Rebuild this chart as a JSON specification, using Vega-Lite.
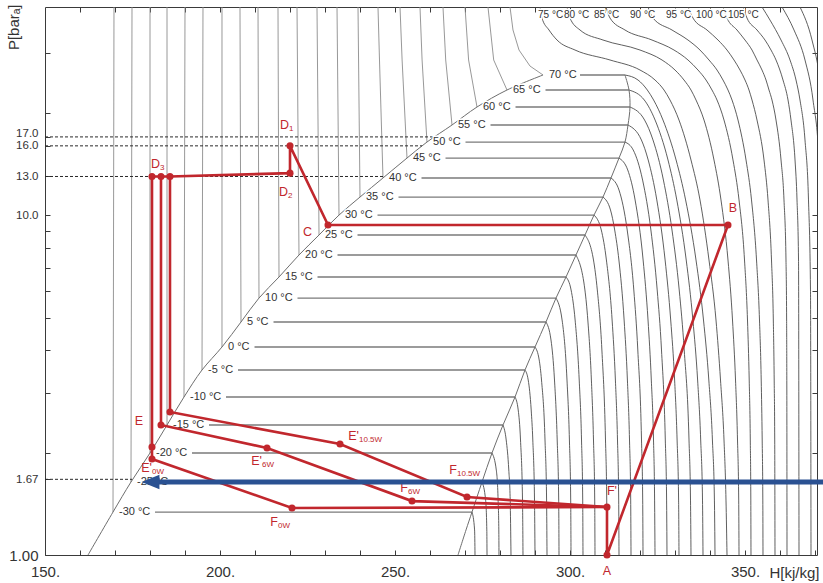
{
  "$schema": "https://vega.github.io/schema/vega-lite/v6.json",
  "width": 772,
  "height": 548,
  "autosize": {"type": "none"},
  "padding": {"left": 45, "top": 7, "right": 6, "bottom": 28},
  "background": "white",
  "config": {
    "view": {"stroke": null},
    "font": "Liberation Sans",
    "axis": {"grid": false, "domainColor": "#3a3a3a", "tickColor": "#3a3a3a", "labelColor": "#333", "titleColor": "#333", "titleFontWeight": "normal"}
  },
  "datasets": {
    "liqv": [
      {"g": -30, "H": 169.43, "P": 1.338}, {"g": -30, "H": 169.71, "P": 41},
      {"g": -25, "H": 174.57, "P": 1.64}, {"g": -25, "H": 174.86, "P": 41},
      {"g": -20, "H": 180.0, "P": 1.996}, {"g": -20, "H": 180.0, "P": 41},
      {"g": -15, "H": 184.86, "P": 2.413}, {"g": -15, "H": 184.86, "P": 41},
      {"g": -10, "H": 189.71, "P": 2.917}, {"g": -10, "H": 190.0, "P": 41},
      {"g": -5, "H": 194.86, "P": 3.503}, {"g": -5, "H": 195.14, "P": 41},
      {"g": 0, "H": 200.57, "P": 4.094}, {"g": 0, "H": 200.57, "P": 41},
      {"g": 5, "H": 206.0, "P": 4.85}, {"g": 5, "H": 205.71, "P": 41},
      {"g": 10, "H": 211.14, "P": 5.704}, {"g": 10, "H": 210.86, "P": 41},
      {"g": 15, "H": 216.86, "P": 6.579}, {"g": 15, "H": 216.57, "P": 41},
      {"g": 20, "H": 222.57, "P": 7.636}, {"g": 20, "H": 222.0, "P": 41},
      {"g": 25, "H": 228.29, "P": 8.745}, {"g": 25, "H": 227.71, "P": 41},
      {"g": 30, "H": 234.0, "P": 10.01}, {"g": 30, "H": 233.43, "P": 41},
      {"g": 35, "H": 240.0, "P": 11.31}, {"g": 35, "H": 239.43, "P": 41},
      {"g": 40, "H": 246.57, "P": 12.87}, {"g": 40, "H": 245.57, "P": 28.63}, {"g": 40, "H": 245.14, "P": 41},
      {"g": 45, "H": 253.43, "P": 14.73}, {"g": 45, "H": 252.03, "P": 28.63}, {"g": 45, "H": 251.43, "P": 41},
      {"g": 50, "H": 259.14, "P": 16.42}, {"g": 50, "H": 257.74, "P": 28.63}, {"g": 50, "H": 257.14, "P": 41},
      {"g": 55, "H": 266.29, "P": 18.43}, {"g": 55, "H": 264.49, "P": 28.63}, {"g": 55, "H": 263.71, "P": 41},
      {"g": 60, "H": 273.43, "P": 20.82}, {"g": 60, "H": 271.03, "P": 28.63}, {"g": 60, "H": 270.0, "P": 41},
      {"g": 65, "H": 282.0, "P": 23.36}, {"g": 65, "H": 278.2, "P": 28.63}, {"g": 65, "H": 276.57, "P": 41},
      {"g": 70, "H": 282.86, "P": 41}, {"g": 70, "H": 283.71, "P": 35.08}, {"g": 70, "H": 285.43, "P": 30.63}, {"g": 70, "H": 288.57, "P": 27.48}, {"g": 70, "H": 292.29, "P": 25.86}
    ],
    "dome": [
      {"g": -30, "H": 181.43, "P": 1.338}, {"g": -30, "H": 272.0, "P": 1.338},
      {"g": -25, "H": 186.57, "P": 1.64}, {"g": -25, "H": 274.86, "P": 1.64},
      {"g": -20, "H": 192.0, "P": 1.996}, {"g": -20, "H": 277.71, "P": 1.996},
      {"g": -15, "H": 196.86, "P": 2.413}, {"g": -15, "H": 280.86, "P": 2.413},
      {"g": -10, "H": 201.71, "P": 2.917}, {"g": -10, "H": 284.29, "P": 2.917},
      {"g": -5, "H": 205.14, "P": 3.503}, {"g": -5, "H": 287.14, "P": 3.503},
      {"g": 0, "H": 209.86, "P": 4.094}, {"g": 0, "H": 290.0, "P": 4.094},
      {"g": 5, "H": 215.29, "P": 4.85}, {"g": 5, "H": 293.14, "P": 4.85},
      {"g": 10, "H": 222.14, "P": 5.704}, {"g": 10, "H": 296.0, "P": 5.704},
      {"g": 15, "H": 227.86, "P": 6.579}, {"g": 15, "H": 298.86, "P": 6.579},
      {"g": 20, "H": 233.57, "P": 7.636}, {"g": 20, "H": 301.71, "P": 7.636},
      {"g": 25, "H": 239.29, "P": 8.745}, {"g": 25, "H": 304.29, "P": 8.745},
      {"g": 30, "H": 245.0, "P": 10.01}, {"g": 30, "H": 306.86, "P": 10.01},
      {"g": 35, "H": 251.0, "P": 11.31}, {"g": 35, "H": 309.43, "P": 11.31},
      {"g": 40, "H": 257.57, "P": 12.87}, {"g": 40, "H": 311.71, "P": 12.87},
      {"g": 45, "H": 264.43, "P": 14.73}, {"g": 45, "H": 314.0, "P": 14.73},
      {"g": 50, "H": 270.14, "P": 16.42}, {"g": 50, "H": 315.71, "P": 16.42},
      {"g": 55, "H": 277.29, "P": 18.43}, {"g": 55, "H": 316.57, "P": 18.43},
      {"g": 60, "H": 284.43, "P": 20.82}, {"g": 60, "H": 317.14, "P": 20.82},
      {"g": 65, "H": 293.0, "P": 23.36}, {"g": 65, "H": 316.86, "P": 23.36},
      {"g": 70, "H": 302.86, "P": 25.86}, {"g": 70, "H": 315.71, "P": 25.86}
    ],
    "vc": [
      {"g": -30, "H": 272.0, "P": 1.338}, {"g": -30, "H": 272.74, "P": 1.185}, {"g": -30, "H": 272.86, "P": 1},
      {"g": -25, "H": 274.86, "P": 1.64}, {"g": -25, "H": 275.89, "P": 1.451}, {"g": -25, "H": 276.23, "P": 1.185}, {"g": -25, "H": 276.29, "P": 1},
      {"g": -20, "H": 277.71, "P": 1.996}, {"g": -20, "H": 278.94, "P": 1.779}, {"g": -20, "H": 279.46, "P": 1.451}, {"g": -20, "H": 279.66, "P": 1.185}, {"g": -20, "H": 279.71, "P": 1},
      {"g": -15, "H": 280.86, "P": 2.413}, {"g": -15, "H": 281.77, "P": 2.18}, {"g": -15, "H": 282.51, "P": 1.779}, {"g": -15, "H": 282.91, "P": 1.451}, {"g": -15, "H": 283.14, "P": 1},
      {"g": -10, "H": 284.29, "P": 2.917}, {"g": -10, "H": 285.2, "P": 2.672}, {"g": -10, "H": 285.86, "P": 2.18}, {"g": -10, "H": 286.43, "P": 1.451}, {"g": -10, "H": 286.57, "P": 1},
      {"g": -5, "H": 287.14, "P": 3.503}, {"g": -5, "H": 288.06, "P": 3.273}, {"g": -5, "H": 288.91, "P": 2.672}, {"g": -5, "H": 289.37, "P": 2.18}, {"g": -5, "H": 289.86, "P": 1.451}, {"g": -5, "H": 290.0, "P": 1},
      {"g": 0, "H": 290.0, "P": 4.094}, {"g": 0, "H": 291.2, "P": 3.749}, {"g": 0, "H": 291.86, "P": 3.273}, {"g": 0, "H": 292.86, "P": 2.18}, {"g": 0, "H": 293.31, "P": 1.451}, {"g": 0, "H": 293.43, "P": 1},
      {"g": 5, "H": 293.14, "P": 4.85}, {"g": 5, "H": 294.57, "P": 4.293}, {"g": 5, "H": 295.57, "P": 3.273}, {"g": 5, "H": 296.34, "P": 2.18}, {"g": 5, "H": 296.77, "P": 1.451}, {"g": 5, "H": 296.86, "P": 1},
      {"g": 10, "H": 296.0, "P": 5.704}, {"g": 10, "H": 297.74, "P": 4.916}, {"g": 10, "H": 299.14, "P": 3.273}, {"g": 10, "H": 299.83, "P": 2.18}, {"g": 10, "H": 300.2, "P": 1.451}, {"g": 10, "H": 300.29, "P": 1},
      {"g": 15, "H": 298.86, "P": 6.579}, {"g": 15, "H": 300.31, "P": 6.026}, {"g": 15, "H": 301.46, "P": 4.916}, {"g": 15, "H": 302.63, "P": 3.273}, {"g": 15, "H": 303.29, "P": 2.18}, {"g": 15, "H": 303.63, "P": 1.451}, {"g": 15, "H": 303.71, "P": 1},
      {"g": 20, "H": 301.71, "P": 7.636}, {"g": 20, "H": 304.26, "P": 6.026}, {"g": 20, "H": 305.09, "P": 4.916}, {"g": 20, "H": 306.11, "P": 3.273}, {"g": 20, "H": 306.71, "P": 2.18}, {"g": 20, "H": 307.06, "P": 1.451}, {"g": 20, "H": 307.14, "P": 1},
      {"g": 25, "H": 304.29, "P": 8.745}, {"g": 25, "H": 306.71, "P": 7.383}, {"g": 25, "H": 307.8, "P": 6.026}, {"g": 25, "H": 309.11, "P": 4.012}, {"g": 25, "H": 310.14, "P": 2.18}, {"g": 25, "H": 310.49, "P": 1.451}, {"g": 25, "H": 310.57, "P": 1},
      {"g": 30, "H": 306.86, "P": 10.01}, {"g": 30, "H": 308.94, "P": 9.046}, {"g": 30, "H": 310.4, "P": 7.383}, {"g": 30, "H": 312.03, "P": 4.916}, {"g": 30, "H": 312.97, "P": 3.273}, {"g": 30, "H": 313.57, "P": 2.18}, {"g": 30, "H": 313.91, "P": 1.451}, {"g": 30, "H": 314.0, "P": 1},
      {"g": 35, "H": 309.43, "P": 11.31}, {"g": 35, "H": 311.57, "P": 10.36}, {"g": 35, "H": 312.77, "P": 9.046}, {"g": 35, "H": 313.97, "P": 7.383}, {"g": 35, "H": 315.46, "P": 4.916}, {"g": 35, "H": 316.4, "P": 3.273}, {"g": 35, "H": 317.0, "P": 2.18}, {"g": 35, "H": 317.34, "P": 1.451}, {"g": 35, "H": 317.43, "P": 1},
      {"g": 40, "H": 311.71, "P": 12.87}, {"g": 40, "H": 314.0, "P": 11.86}, {"g": 40, "H": 316.34, "P": 9.046}, {"g": 40, "H": 318.23, "P": 6.026}, {"g": 40, "H": 319.37, "P": 4.012}, {"g": 40, "H": 320.43, "P": 2.18}, {"g": 40, "H": 320.77, "P": 1.451}, {"g": 40, "H": 320.86, "P": 1},
      {"g": 45, "H": 314.0, "P": 14.73}, {"g": 45, "H": 316.49, "P": 13.59}, {"g": 45, "H": 318.6, "P": 11.09}, {"g": 45, "H": 320.89, "P": 7.383}, {"g": 45, "H": 322.29, "P": 4.916}, {"g": 45, "H": 323.23, "P": 3.273}, {"g": 45, "H": 323.86, "P": 2.18}, {"g": 45, "H": 324.17, "P": 1.451}, {"g": 45, "H": 324.29, "P": 1},
      {"g": 50, "H": 315.71, "P": 16.42}, {"g": 50, "H": 318.06, "P": 15.56}, {"g": 50, "H": 320.74, "P": 12.69}, {"g": 50, "H": 323.11, "P": 9.046}, {"g": 50, "H": 324.91, "P": 6.026}, {"g": 50, "H": 326.14, "P": 4.012}, {"g": 50, "H": 327.23, "P": 2.18}, {"g": 50, "H": 327.6, "P": 1.451}, {"g": 50, "H": 327.71, "P": 1},
      {"g": 55, "H": 316.57, "P": 18.43}, {"g": 55, "H": 320.4, "P": 16.65}, {"g": 55, "H": 322.34, "P": 14.54}, {"g": 55, "H": 324.8, "P": 11.09}, {"g": 55, "H": 327.17, "P": 7.383}, {"g": 55, "H": 328.77, "P": 4.916}, {"g": 55, "H": 329.89, "P": 3.273}, {"g": 55, "H": 330.6, "P": 2.18}, {"g": 55, "H": 331.03, "P": 1.451}, {"g": 55, "H": 331.14, "P": 1},
      {"g": 60, "H": 317.14, "P": 20.82}, {"g": 60, "H": 321.31, "P": 19.06}, {"g": 60, "H": 323.71, "P": 16.65}, {"g": 60, "H": 326.69, "P": 12.69}, {"g": 60, "H": 329.14, "P": 9.046}, {"g": 60, "H": 331.2, "P": 6.026}, {"g": 60, "H": 332.63, "P": 4.012}, {"g": 60, "H": 334.0, "P": 2.18}, {"g": 60, "H": 334.43, "P": 1.451}, {"g": 60, "H": 334.57, "P": 1},
      {"g": 65, "H": 316.86, "P": 23.36}, {"g": 65, "H": 321.23, "P": 21.83}, {"g": 65, "H": 324.31, "P": 19.06}, {"g": 65, "H": 328.0, "P": 14.54}, {"g": 65, "H": 330.51, "P": 11.09}, {"g": 65, "H": 333.2, "P": 7.383}, {"g": 65, "H": 335.11, "P": 4.916}, {"g": 65, "H": 336.46, "P": 3.273}, {"g": 65, "H": 337.34, "P": 2.18}, {"g": 65, "H": 337.86, "P": 1.451}, {"g": 65, "H": 338.0, "P": 1},
      {"g": 70, "H": 315.71, "P": 25.86}, {"g": 70, "H": 319.43, "P": 25.0}, {"g": 70, "H": 322.09, "P": 23.36}, {"g": 70, "H": 323.89, "P": 21.83}, {"g": 70, "H": 326.57, "P": 19.06}, {"g": 70, "H": 330.31, "P": 14.54}, {"g": 70, "H": 333.03, "P": 11.09}, {"g": 70, "H": 336.0, "P": 7.383}, {"g": 70, "H": 338.14, "P": 4.916}, {"g": 70, "H": 339.66, "P": 3.273}, {"g": 70, "H": 340.69, "P": 2.18}, {"g": 70, "H": 341.26, "P": 1.451}, {"g": 70, "H": 341.43, "P": 1},
      {"g": 75, "H": 291.43, "P": 41}, {"g": 75, "H": 292.0, "P": 38.04}, {"g": 75, "H": 294.0, "P": 35.08}, {"g": 75, "H": 296.29, "P": 32.78}, {"g": 75, "H": 301.43, "P": 30.63}, {"g": 75, "H": 311.43, "P": 28.63}, {"g": 75, "H": 320.0, "P": 26.75}, {"g": 75, "H": 324.29, "P": 25.0}, {"g": 75, "H": 326.86, "P": 23.36}, {"g": 75, "H": 328.57, "P": 21.83}, {"g": 75, "H": 331.14, "P": 19.06}, {"g": 75, "H": 334.57, "P": 14.54}, {"g": 75, "H": 337.14, "P": 11.09}, {"g": 75, "H": 339.71, "P": 7.383}, {"g": 75, "H": 341.71, "P": 4.916}, {"g": 75, "H": 343.0, "P": 3.273}, {"g": 75, "H": 344.0, "P": 2.18}, {"g": 75, "H": 344.57, "P": 1.451}, {"g": 75, "H": 344.86, "P": 1},
      {"g": 80, "H": 299.14, "P": 41}, {"g": 80, "H": 300.0, "P": 38.04}, {"g": 80, "H": 302.86, "P": 35.08}, {"g": 80, "H": 309.43, "P": 32.78}, {"g": 80, "H": 320.0, "P": 30.63}, {"g": 80, "H": 326.29, "P": 28.63}, {"g": 80, "H": 330.0, "P": 26.75}, {"g": 80, "H": 332.57, "P": 25.0}, {"g": 80, "H": 334.57, "P": 23.36}, {"g": 80, "H": 336.0, "P": 21.83}, {"g": 80, "H": 338.29, "P": 19.06}, {"g": 80, "H": 341.14, "P": 14.54}, {"g": 80, "H": 343.14, "P": 11.09}, {"g": 80, "H": 345.14, "P": 7.383}, {"g": 80, "H": 346.43, "P": 4.916}, {"g": 80, "H": 347.29, "P": 3.273}, {"g": 80, "H": 347.86, "P": 2.18}, {"g": 80, "H": 348.2, "P": 1.451}, {"g": 80, "H": 348.29, "P": 1},
      {"g": 85, "H": 310.29, "P": 41}, {"g": 85, "H": 311.43, "P": 38.04}, {"g": 85, "H": 315.71, "P": 35.08}, {"g": 85, "H": 323.43, "P": 32.78}, {"g": 85, "H": 329.71, "P": 30.63}, {"g": 85, "H": 333.71, "P": 28.63}, {"g": 85, "H": 336.57, "P": 26.75}, {"g": 85, "H": 338.86, "P": 25.0}, {"g": 85, "H": 340.57, "P": 23.36}, {"g": 85, "H": 342.0, "P": 21.83}, {"g": 85, "H": 344.0, "P": 19.06}, {"g": 85, "H": 346.57, "P": 14.54}, {"g": 85, "H": 348.29, "P": 11.09}, {"g": 85, "H": 349.86, "P": 7.383}, {"g": 85, "H": 350.71, "P": 4.916}, {"g": 85, "H": 351.2, "P": 3.273}, {"g": 85, "H": 351.51, "P": 2.18}, {"g": 85, "H": 351.66, "P": 1.451}, {"g": 85, "H": 351.71, "P": 1},
      {"g": 90, "H": 322.29, "P": 41}, {"g": 90, "H": 323.71, "P": 38.04}, {"g": 90, "H": 329.14, "P": 35.08}, {"g": 90, "H": 333.71, "P": 32.78}, {"g": 90, "H": 337.14, "P": 30.63}, {"g": 90, "H": 339.71, "P": 28.63}, {"g": 90, "H": 342.0, "P": 26.75}, {"g": 90, "H": 343.71, "P": 25.0}, {"g": 90, "H": 345.14, "P": 23.36}, {"g": 90, "H": 346.29, "P": 21.83}, {"g": 90, "H": 348.0, "P": 19.06}, {"g": 90, "H": 350.29, "P": 14.54}, {"g": 90, "H": 351.86, "P": 11.09}, {"g": 90, "H": 353.29, "P": 7.383}, {"g": 90, "H": 354.14, "P": 4.916}, {"g": 90, "H": 354.63, "P": 3.273}, {"g": 90, "H": 354.91, "P": 2.18}, {"g": 90, "H": 355.09, "P": 1.451}, {"g": 90, "H": 355.14, "P": 1},
      {"g": 95, "H": 333.71, "P": 41}, {"g": 95, "H": 335.14, "P": 38.04}, {"g": 95, "H": 339.14, "P": 35.08}, {"g": 95, "H": 342.29, "P": 32.78}, {"g": 95, "H": 344.86, "P": 30.63}, {"g": 95, "H": 346.86, "P": 28.63}, {"g": 95, "H": 348.57, "P": 26.75}, {"g": 95, "H": 350.0, "P": 25.0}, {"g": 95, "H": 351.14, "P": 23.36}, {"g": 95, "H": 352.0, "P": 21.83}, {"g": 95, "H": 353.43, "P": 19.06}, {"g": 95, "H": 355.43, "P": 14.54}, {"g": 95, "H": 356.57, "P": 11.09}, {"g": 95, "H": 357.57, "P": 7.383}, {"g": 95, "H": 358.09, "P": 4.916}, {"g": 95, "H": 358.34, "P": 3.273}, {"g": 95, "H": 358.49, "P": 2.18}, {"g": 95, "H": 358.57, "P": 1},
      {"g": 100, "H": 343.71, "P": 41}, {"g": 100, "H": 344.86, "P": 38.04}, {"g": 100, "H": 347.71, "P": 35.08}, {"g": 100, "H": 350.0, "P": 32.78}, {"g": 100, "H": 352.0, "P": 30.63}, {"g": 100, "H": 353.43, "P": 28.63}, {"g": 100, "H": 354.86, "P": 26.75}, {"g": 100, "H": 356.0, "P": 25.0}, {"g": 100, "H": 356.86, "P": 23.36}, {"g": 100, "H": 357.71, "P": 21.83}, {"g": 100, "H": 358.86, "P": 19.06}, {"g": 100, "H": 360.29, "P": 14.54}, {"g": 100, "H": 361.14, "P": 11.09}, {"g": 100, "H": 361.71, "P": 7.383}, {"g": 100, "H": 361.89, "P": 4.916}, {"g": 100, "H": 361.97, "P": 2.18}, {"g": 100, "H": 362.0, "P": 1},
      {"g": 105, "H": 349.43, "P": 41}, {"g": 105, "H": 350.57, "P": 38.04}, {"g": 105, "H": 353.43, "P": 35.08}, {"g": 105, "H": 355.71, "P": 32.78}, {"g": 105, "H": 357.43, "P": 30.63}, {"g": 105, "H": 358.86, "P": 28.63}, {"g": 105, "H": 360.86, "P": 25.0}, {"g": 105, "H": 362.29, "P": 21.83}, {"g": 105, "H": 363.14, "P": 19.06}, {"g": 105, "H": 364.29, "P": 14.54}, {"g": 105, "H": 364.86, "P": 11.09}, {"g": 105, "H": 365.29, "P": 7.383}, {"g": 105, "H": 365.43, "P": 1},
      {"g": 110, "H": 354.86, "P": 41}, {"g": 110, "H": 357.14, "P": 37.53}, {"g": 110, "H": 360.29, "P": 32.78}, {"g": 110, "H": 362.86, "P": 28.63}, {"g": 110, "H": 364.57, "P": 25.0}, {"g": 110, "H": 365.71, "P": 21.83}, {"g": 110, "H": 367.14, "P": 16.65}, {"g": 110, "H": 368.14, "P": 11.09}, {"g": 110, "H": 368.71, "P": 6.026}, {"g": 110, "H": 368.86, "P": 1},
      {"g": 115, "H": 360.57, "P": 41}, {"g": 115, "H": 364.0, "P": 35.08}, {"g": 115, "H": 367.14, "P": 28.63}, {"g": 115, "H": 369.43, "P": 21.83}, {"g": 115, "H": 371.14, "P": 14.54}, {"g": 115, "H": 372.0, "P": 7.383}, {"g": 115, "H": 372.29, "P": 1},
      {"g": 120, "H": 365.71, "P": 41}, {"g": 120, "H": 369.14, "P": 32.78}, {"g": 120, "H": 371.43, "P": 25.0}, {"g": 120, "H": 373.14, "P": 16.65}, {"g": 120, "H": 374.29, "P": 7.383}
    ],
    "sat": [
      {"g": "liquid", "i": 0, "H": 162.29, "P": 1}, {"g": "liquid", "i": 1, "H": 169.43, "P": 1.338},
      {"g": "liquid", "i": 2, "H": 174.57, "P": 1.64}, {"g": "liquid", "i": 3, "H": 180.0, "P": 1.996},
      {"g": "liquid", "i": 4, "H": 184.86, "P": 2.413}, {"g": "liquid", "i": 5, "H": 189.71, "P": 2.917},
      {"g": "liquid", "i": 6, "H": 194.86, "P": 3.503}, {"g": "liquid", "i": 7, "H": 200.57, "P": 4.094},
      {"g": "liquid", "i": 8, "H": 206.0, "P": 4.85}, {"g": "liquid", "i": 9, "H": 211.14, "P": 5.704},
      {"g": "liquid", "i": 10, "H": 216.86, "P": 6.579}, {"g": "liquid", "i": 11, "H": 222.57, "P": 7.636},
      {"g": "liquid", "i": 12, "H": 228.29, "P": 8.745}, {"g": "liquid", "i": 13, "H": 234.0, "P": 10.01},
      {"g": "liquid", "i": 14, "H": 240.0, "P": 11.31}, {"g": "liquid", "i": 15, "H": 246.57, "P": 12.87},
      {"g": "liquid", "i": 16, "H": 253.43, "P": 14.73}, {"g": "liquid", "i": 17, "H": 259.14, "P": 16.42},
      {"g": "liquid", "i": 18, "H": 266.29, "P": 18.43}, {"g": "liquid", "i": 19, "H": 273.43, "P": 20.82},
      {"g": "liquid", "i": 20, "H": 282.0, "P": 23.36}, {"g": "liquid", "i": 21, "H": 292.29, "P": 25.86},
      {"g": "vapour", "i": 0, "H": 268.0, "P": 1}, {"g": "vapour", "i": 1, "H": 270.29, "P": 1.185},
      {"g": "vapour", "i": 2, "H": 272.0, "P": 1.338}, {"g": "vapour", "i": 3, "H": 274.86, "P": 1.64},
      {"g": "vapour", "i": 4, "H": 277.71, "P": 1.996}, {"g": "vapour", "i": 5, "H": 280.86, "P": 2.413},
      {"g": "vapour", "i": 6, "H": 284.29, "P": 2.917}, {"g": "vapour", "i": 7, "H": 287.14, "P": 3.503},
      {"g": "vapour", "i": 8, "H": 290.0, "P": 4.094}, {"g": "vapour", "i": 9, "H": 293.14, "P": 4.85},
      {"g": "vapour", "i": 10, "H": 296.0, "P": 5.704}, {"g": "vapour", "i": 11, "H": 298.86, "P": 6.579},
      {"g": "vapour", "i": 12, "H": 301.71, "P": 7.636}, {"g": "vapour", "i": 13, "H": 304.29, "P": 8.745},
      {"g": "vapour", "i": 14, "H": 306.86, "P": 10.01}, {"g": "vapour", "i": 15, "H": 309.43, "P": 11.31},
      {"g": "vapour", "i": 16, "H": 311.71, "P": 12.87}, {"g": "vapour", "i": 17, "H": 314.0, "P": 14.73},
      {"g": "vapour", "i": 18, "H": 315.71, "P": 16.42}, {"g": "vapour", "i": 19, "H": 316.57, "P": 18.43},
      {"g": "vapour", "i": 20, "H": 317.14, "P": 20.82}, {"g": "vapour", "i": 21, "H": 316.86, "P": 23.36},
      {"g": "vapour", "i": 22, "H": 315.71, "P": 25.86}
    ],
    "dash": [
      {"g": "17.0", "H": 150, "P": 17}, {"g": "17.0", "H": 261.14, "P": 17},
      {"g": "16.0", "H": 150, "P": 16}, {"g": "16.0", "H": 257.71, "P": 16},
      {"g": "13.0", "H": 150, "P": 13}, {"g": "13.0", "H": 247.14, "P": 13},
      {"g": "1.67", "H": 150, "P": 1.67}, {"g": "1.67", "H": 174.86, "P": 1.67}
    ],
    "tl": [
      {"t": "-30 °C", "H": 171.14, "P": 1.338, "fs": 11},
      {"t": "-25 °C", "H": 176.29, "P": 1.64, "fs": 11},
      {"t": "-20 °C", "H": 181.71, "P": 1.996, "fs": 11},
      {"t": "-15 °C", "H": 186.57, "P": 2.413, "fs": 11},
      {"t": "-10 °C", "H": 191.43, "P": 2.917, "fs": 11},
      {"t": "-5 °C", "H": 196.57, "P": 3.503, "fs": 11},
      {"t": "0 °C", "H": 202.29, "P": 4.094, "fs": 11},
      {"t": "5 °C", "H": 207.71, "P": 4.85, "fs": 11},
      {"t": "10 °C", "H": 212.86, "P": 5.704, "fs": 11},
      {"t": "15 °C", "H": 218.57, "P": 6.579, "fs": 11},
      {"t": "20 °C", "H": 224.29, "P": 7.636, "fs": 11},
      {"t": "25 °C", "H": 230.0, "P": 8.745, "fs": 11},
      {"t": "30 °C", "H": 235.71, "P": 10.01, "fs": 11},
      {"t": "35 °C", "H": 241.71, "P": 11.31, "fs": 11},
      {"t": "40 °C", "H": 248.29, "P": 12.87, "fs": 11},
      {"t": "45 °C", "H": 255.14, "P": 14.73, "fs": 11},
      {"t": "50 °C", "H": 260.86, "P": 16.42, "fs": 11},
      {"t": "55 °C", "H": 268.0, "P": 18.43, "fs": 11},
      {"t": "60 °C", "H": 275.14, "P": 20.82, "fs": 11},
      {"t": "65 °C", "H": 283.71, "P": 23.36, "fs": 11},
      {"t": "70 °C", "H": 294.0, "P": 25.86, "fs": 11},
      {"t": "75 °C", "H": 290.86, "P": 38.83, "fs": 10},
      {"t": "80 °C", "H": 298.29, "P": 38.83, "fs": 10},
      {"t": "85 °C", "H": 306.86, "P": 38.83, "fs": 10},
      {"t": "90 °C", "H": 317.14, "P": 38.83, "fs": 10},
      {"t": "95 °C", "H": 327.43, "P": 38.83, "fs": 10},
      {"t": "100 °C", "H": 336.0, "P": 38.83, "fs": 10},
      {"t": "105 °C", "H": 345.14, "P": 38.83, "fs": 10}
    ],
    "red": [
      {"g": "main", "i": 0, "H": 310.57, "P": 1.384}, {"g": "main", "i": 1, "H": 310.57, "P": 1.0},
      {"g": "main", "i": 2, "H": 345.14, "P": 9.36}, {"g": "main", "i": 3, "H": 230.86, "P": 9.36},
      {"g": "main", "i": 4, "H": 220.0, "P": 16.0}, {"g": "main", "i": 5, "H": 220.0, "P": 13.3},
      {"g": "main", "i": 6, "H": 185.71, "P": 13.0}, {"g": "main", "i": 7, "H": 183.14, "P": 13.0},
      {"g": "main", "i": 8, "H": 180.57, "P": 13.0},
      {"g": "0W", "i": 0, "H": 180.57, "P": 13.0}, {"g": "0W", "i": 1, "H": 180.57, "P": 1.916},
      {"g": "0W", "i": 2, "H": 220.57, "P": 1.375}, {"g": "0W", "i": 3, "H": 310.57, "P": 1.384},
      {"g": "6W", "i": 0, "H": 183.14, "P": 13.0}, {"g": "6W", "i": 1, "H": 183.14, "P": 2.413},
      {"g": "6W", "i": 2, "H": 213.43, "P": 2.065}, {"g": "6W", "i": 3, "H": 254.86, "P": 1.441},
      {"g": "6W", "i": 4, "H": 310.57, "P": 1.384},
      {"g": "10.5W", "i": 0, "H": 185.71, "P": 13.0}, {"g": "10.5W", "i": 1, "H": 185.71, "P": 2.635},
      {"g": "10.5W", "i": 2, "H": 234.29, "P": 2.121}, {"g": "10.5W", "i": 3, "H": 270.57, "P": 1.481},
      {"g": "10.5W", "i": 4, "H": 310.57, "P": 1.384}
    ],
    "dots": [
      {"H": 220.0, "P": 16.0}, {"H": 220.0, "P": 13.3}, {"H": 180.57, "P": 13.0},
      {"H": 183.14, "P": 13.0}, {"H": 185.71, "P": 13.0}, {"H": 230.86, "P": 9.36},
      {"H": 345.14, "P": 9.36}, {"H": 310.57, "P": 1.0}, {"H": 310.57, "P": 1.384},
      {"H": 180.57, "P": 2.078}, {"H": 180.57, "P": 1.916}, {"H": 183.14, "P": 2.413},
      {"H": 185.71, "P": 2.635}, {"H": 213.43, "P": 2.065}, {"H": 254.86, "P": 1.441},
      {"H": 234.29, "P": 2.121}, {"H": 270.57, "P": 1.481}, {"H": 220.57, "P": 1.375}
    ],
    "rl": [
      {"m": "D", "s": "1", "H": 219.71, "P": 18.43},
      {"m": "D", "s": "2", "H": 219.43, "P": 11.7},
      {"m": "D", "s": "3", "H": 182.86, "P": 14.15},
      {"m": "C", "s": "", "H": 226.29, "P": 8.926},
      {"m": "B", "s": "", "H": 347.71, "P": 10.5},
      {"m": "E", "s": "", "H": 178.0, "P": 2.48},
      {"m": "E'", "s": "0W", "H": 180.57, "P": 1.803},
      {"m": "E'", "s": "6W", "H": 212.0, "P": 1.89},
      {"m": "E'", "s": "10.5W", "H": 239.71, "P": 2.24},
      {"m": "F", "s": "10.5W", "H": 267.71, "P": 1.779},
      {"m": "F", "s": "6W", "H": 253.71, "P": 1.575},
      {"m": "F", "s": "0W", "H": 216.57, "P": 1.251},
      {"m": "F'", "s": "", "H": 313.43, "P": 1.543},
      {"m": "A", "s": "", "H": 311.71, "P": 0.897}
    ],
    "arrow": [{"H": 181.71, "P": 1.64}, {"H": 372.29, "P": 1.64}],
    "head": [{"H": 180.14, "P": 1.64}]
  },
  "encoding": {
    "x": {"field": "H", "type": "quantitative", "scale": {"domain": [150, 370.57], "nice": false, "zero": false}, "axis": null},
    "y": {"field": "P", "type": "quantitative", "scale": {"type": "log", "domain": [1, 41], "nice": false}, "axis": null}
  },
  "resolve": {"axis": {"x": "independent", "y": "independent"}},
  "layer": [
    {
      "data": {"name": "liqv"},
      "mark": {"type": "line", "color": "#8c8c8c", "strokeWidth": 0.9},
      "encoding": {"detail": {"field": "g", "type": "nominal"}}
    },
    {
      "data": {"name": "dome"},
      "mark": {"type": "line", "color": "#7a7a7a", "strokeWidth": 1.3},
      "encoding": {"detail": {"field": "g", "type": "nominal"}}
    },
    {
      "data": {"name": "vc"},
      "mark": {"type": "line", "interpolate": "monotone", "color": "#4d4d4d", "strokeWidth": 0.9, "clip": true},
      "encoding": {"detail": {"field": "g", "type": "nominal"}}
    },
    {
      "data": {"name": "sat"},
      "mark": {"type": "line", "interpolate": "catmull-rom", "color": "#6e6e6e", "strokeWidth": 1},
      "encoding": {
        "x": {
          "field": "H", "type": "quantitative",
          "scale": {"domain": [150, 370.57], "nice": false, "zero": false},
          "axis": {
            "orient": "bottom",
            "values": [150, 160, 170, 180, 190, 200, 210, 220, 230, 240, 250, 260, 270, 280, 290, 300, 310, 320, 330, 340, 350, 360, 370],
            "labelExpr": "datum.value % 50 == 0 ? datum.value + '.' : ''",
            "tickSize": -5, "labelPadding": 14, "labelFontSize": 15, "labelFlush": false, "labelOverlap": false,
            "title": "H[kj/kg]", "titleX": 774, "titleY": 17, "titleAlign": "right", "titleBaseline": "middle", "titleFontSize": 15
          }
        },
        "y": {
          "field": "P", "type": "quantitative",
          "scale": {"type": "log", "domain": [1, 41], "nice": false},
          "axis": {
            "orient": "left",
            "values": [1, 1.67, 2, 3, 4, 5, 6, 7, 8, 9, 10, 13, 16, 17, 20, 30],
            "labelExpr": "datum.value == 1 ? '1.00' : datum.value == 1.67 ? '1.67' : (datum.value == 10 || datum.value == 13 || datum.value == 16 || datum.value == 17) ? format(datum.value, '.1f') : ''",
            "tickSize": -5, "labelPadding": 12, "labelOverlap": false, "labelBaseline": "middle",
            "labelOffset": {"condition": {"test": "datum.value == 17", "value": -3}, "value": 0},
            "labelFontSize": {"condition": {"test": "datum.value == 1", "value": 15}, "value": 11.5},
            "title": "P[barₐ]", "titleAngle": -90, "titleX": -32, "titleY": -3, "titleAlign": "right", "titleBaseline": "middle", "titleFontSize": 15
          }
        },
        "detail": {"field": "g", "type": "nominal"},
        "order": {"field": "i", "type": "quantitative"}
      }
    },
    {
      "data": {"name": "dash"},
      "mark": {"type": "line", "color": "#2a2a2a", "strokeWidth": 1, "strokeDash": [3, 2]},
      "encoding": {
        "x": {
          "field": "H", "type": "quantitative",
          "scale": {"domain": [150, 370.57], "nice": false, "zero": false},
          "axis": {"orient": "top", "values": [160, 170, 180, 190, 200, 210, 220, 230, 240, 250, 260, 270, 280, 290, 300, 310, 320, 330, 340, 350, 360], "labels": false, "tickSize": -5, "title": null}
        },
        "y": {
          "field": "P", "type": "quantitative",
          "scale": {"type": "log", "domain": [1, 41], "nice": false},
          "axis": {"orient": "right", "values": [2, 3, 4, 5, 6, 7, 8, 9, 10, 20, 30], "labels": false, "tickSize": -5, "title": null}
        },
        "detail": {"field": "g", "type": "nominal"}
      }
    },
    {
      "data": {"name": "tl"},
      "mark": {"type": "text", "align": "left", "baseline": "middle", "color": "white", "stroke": "white", "strokeWidth": 3},
      "encoding": {
        "text": {"field": "t", "type": "nominal"},
        "size": {"field": "fs", "type": "quantitative", "scale": null}
      }
    },
    {
      "data": {"name": "tl"},
      "mark": {"type": "text", "align": "left", "baseline": "middle", "color": "#333"},
      "encoding": {
        "text": {"field": "t", "type": "nominal"},
        "size": {"field": "fs", "type": "quantitative", "scale": null}
      }
    },
    {
      "data": {"name": "red"},
      "mark": {"type": "line", "color": "#c1272d", "strokeWidth": 2.6},
      "encoding": {"detail": {"field": "g", "type": "nominal"}, "order": {"field": "i", "type": "quantitative"}}
    },
    {
      "data": {"name": "dots"},
      "mark": {"type": "point", "filled": true, "color": "#c1272d", "size": 50, "opacity": 1}
    },
    {
      "data": {"name": "rl"},
      "mark": {"type": "text", "align": "right", "baseline": "middle", "fontSize": 12.5, "color": "#c1272d"},
      "encoding": {"text": {"field": "m", "type": "nominal"}}
    },
    {
      "data": {"name": "rl"},
      "transform": [{"filter": "datum.s != ''"}],
      "mark": {"type": "text", "align": "left", "baseline": "middle", "fontSize": 8, "dy": 4, "color": "#c1272d"},
      "encoding": {"text": {"field": "s", "type": "nominal"}}
    },
    {
      "data": {"name": "arrow"},
      "mark": {"type": "line", "color": "#2a5192", "strokeWidth": 5, "clip": false}
    },
    {
      "data": {"name": "head"},
      "mark": {"type": "point", "shape": "M-1,0L1,-0.82L1,0.82Z", "size": 320, "filled": true, "color": "#2a5192", "opacity": 1}
    }
  ]
}
